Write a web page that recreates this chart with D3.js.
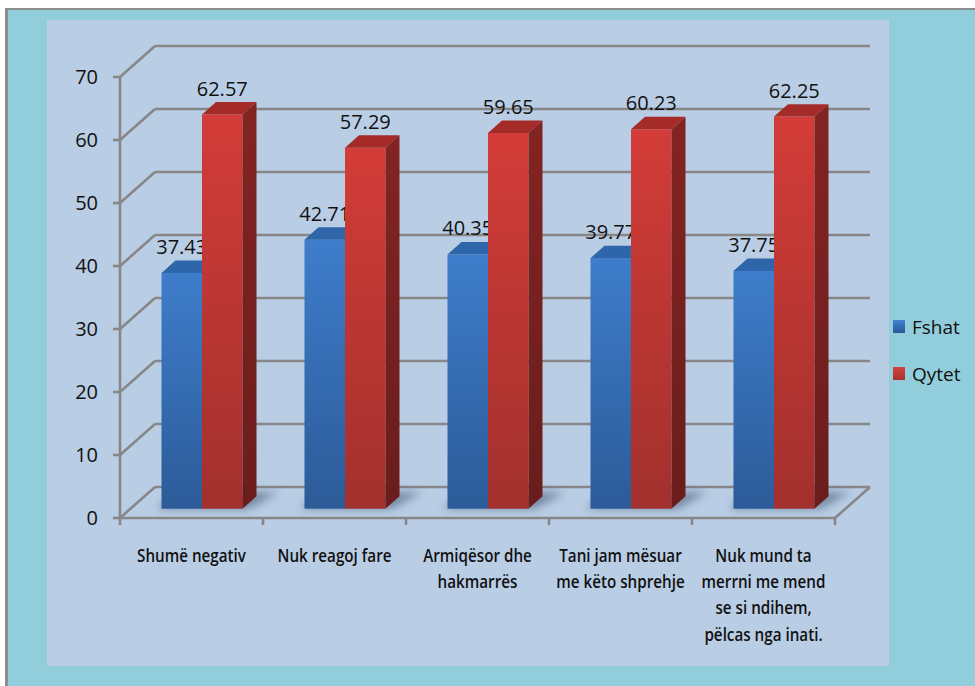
<!DOCTYPE html>
<html><head><meta charset="utf-8">
<script src="https://cdn.jsdelivr.net/npm/d3@7"></script>
<style>body{margin:0;background:#fff}svg{display:block}</style>
</head><body>
<script>
const categories = ["Shumë negativ", "Nuk reagoj fare", "Armiqësor dhe\nhakmarrës", "Tani jam mësuar\nme këto shprehje", "Nuk mund ta\nmerrni me mend\nse si ndihem,\npëlcas nga inati."];
const seriesNames = ["Fshat", "Qytet"];
const fshat = [37.43, 42.71, 40.35, 39.77, 37.75];
const qytet = [62.57, 57.29, 59.65, 60.23, 62.25];
const yTicks = [0, 10, 20, 30, 40, 50, 60, 70];

const W = 975, H = 686;
const svg = d3.select("body").append("svg").attr("width", W).attr("height", H);
const defs = svg.append("defs");

function grad(id, stops, x2 = 0, y2 = 1) {
  const g = defs.append("linearGradient").attr("id", id).attr("x1", 0).attr("y1", 0).attr("x2", x2).attr("y2", y2);
  stops.forEach(([o, c]) => g.append("stop").attr("offset", o).attr("stop-color", c));
}
grad("blueFront", [[0, "#3E7DCB"], [1, "#2C5B98"]]);
grad("redFront", [[0, "#D33C38"], [1, "#A2302D"]]);
grad("redSide", [[0, "#832422"], [1, "#6A1D1C"]]);
grad("blueSide", [[0, "#24508A"], [1, "#1D416F"]]);
grad("blueLeg", [[0, "#4282D0"], [1, "#2A5894"]]);
grad("redLeg", [[0, "#D6433E"], [1, "#A8302D"]]);
defs.append("filter").attr("id", "blur").attr("x", "-50%").attr("y", "-50%").attr("width", "200%").attr("height", "200%")
  .append("feGaussianBlur").attr("stdDeviation", 4);

// backgrounds
svg.append("rect").attr("x", 5).attr("y", 8).attr("width", W - 5).attr("height", H - 8).attr("fill", "#8C8C8C");
svg.append("rect").attr("x", 8).attr("y", 10).attr("width", W - 8).attr("height", H - 10).attr("fill", "#92CDDC");
svg.append("rect").attr("x", 47).attr("y", 20).attr("width", 842).attr("height", 646).attr("fill", "#B9CDE5");

const x = d3.scaleBand().domain(d3.range(categories.length)).range([120, 835]);
const xs = d3.scaleBand().domain(seriesNames).range([0, x.bandwidth()]).paddingOuter(0.765);
const y = d3.scaleLinear().domain([0, 70]).range([518, 77]);
const color = d3.scaleOrdinal().domain(seriesNames).range(["blue", "red"]);

const DX = 35, DY = -31;          // wall depth
const FX = 10.5, FY = -9.3;       // bar front plane offset
const BX = 14, BY = -12.4;        // bar depth
const gridColor = "#878787";

const grid = svg.append("g").attr("stroke", gridColor).attr("stroke-width", 2.6).attr("fill", "none");
yTicks.forEach(t => {
  const yy = y(t);
  grid.append("line").attr("x1", 120).attr("y1", yy).attr("x2", 120 + DX).attr("y2", yy + DY);
  grid.append("line").attr("x1", 120 + DX).attr("y1", yy + DY).attr("x2", 835 + DX).attr("y2", yy + DY);
  grid.append("line").attr("x1", 113).attr("y1", yy).attr("x2", 120).attr("y2", yy);
});
grid.append("line").attr("x1", 120).attr("y1", y(0)).attr("x2", 120).attr("y2", y(70));
grid.append("line").attr("x1", 120).attr("y1", y(0)).attr("x2", 835).attr("y2", y(0));
grid.append("line").attr("x1", 835).attr("y1", y(0)).attr("x2", 835 + DX).attr("y2", y(0) + DY);
d3.range(categories.length + 1).forEach(i => {
  const xx = 120 + i * x.bandwidth();
  grid.append("line").attr("x1", xx).attr("y1", y(0)).attr("x2", xx).attr("y2", y(0) + 7);
});

// y tick labels
svg.append("g").selectAll("text").data(yTicks).join("text")
  .attr("x", 98).attr("y", d => y(d)).attr("dy", "0.36em").attr("text-anchor", "end")
  .attr("font-family", "'Open Sans', sans-serif").attr("font-size", 20).attr("fill", "#111")
  .text(d => d);

const values = { Fshat: fshat, Qytet: qytet };

// shadows
const shadows = svg.append("g").attr("filter", "url(#blur)").attr("opacity", 0.55);
categories.forEach((c, i) => {
  const x0 = x(i) + xs("Fshat") + FX, x1 = x(i) + xs("Qytet") + xs.bandwidth() + FX;
  const yb = y(0) + FY;
  shadows.append("polygon").attr("fill", "#3a4f6a")
    .attr("points", [[x0 - 4, yb], [x1 + 6, yb], [x1 + BX + 22, yb + BY - 4], [x0 + BX, yb + BY - 4]].map(p => p.join(",")).join(" "));
});

// bars
const bars = svg.append("g");
categories.forEach((c, i) => {
  seriesNames.forEach(s => {
    const v = values[s][i];
    const bx = x(i) + xs(s) + FX, w = xs.bandwidth();
    const yt = y(v) + FY, yb = y(0) + FY;
    const col = color(s);
    bars.append("rect").attr("x", bx).attr("y", yt).attr("width", w).attr("height", yb - yt)
      .attr("fill", `url(#${col}Front)`);
    bars.append("polygon").attr("fill", col === "blue" ? "#2F65A9" : "#A42B28")
      .attr("points", [[bx, yt], [bx + w, yt], [bx + w + BX, yt + BY], [bx + BX, yt + BY]].map(p => p.join(",")).join(" "));
    bars.append("polygon").attr("fill", `url(#${col}Side)`)
      .attr("points", [[bx + w, yt], [bx + w + BX, yt + BY], [bx + w + BX, yb + BY], [bx + w, yb]].map(p => p.join(",")).join(" "));
    bars.append("text").attr("x", bx + w / 2).attr("y", yt - 19).attr("text-anchor", "middle")
      .attr("font-family", "'Open Sans', sans-serif").attr("font-size", 20).attr("fill", "#111")
      .text(v.toFixed(2));
  });
});

// category labels (condensed horizontally to mimic a narrow bold face)
const catG = svg.append("g").attr("font-family", "'Open Sans', sans-serif")
  .attr("font-weight", 600).attr("font-size", 18).attr("fill", "#111").attr("text-anchor", "middle");
const texts = [];
categories.forEach((c, i) => {
  const cx = x(i) + x.bandwidth() / 2;
  const g = catG.append("g").attr("transform", `translate(${cx},0)`);
  const t = g.append("text").attr("x", 0).attr("y", 562);
  c.split("\n").forEach((line, k) => {
    t.append("tspan").attr("x", 0).attr("dy", k === 0 ? 0 : 26.2).text(line);
  });
  texts.push(g);
});
const refW = texts[0].select("text").node().getComputedTextLength();
const f = 109 / refW;
texts.forEach((g, i) => {
  const cx = x(i) + x.bandwidth() / 2;
  g.attr("transform", `translate(${cx},0) scale(${f},1)`);
});

// legend
const leg = svg.append("g");
seriesNames.forEach((s, k) => {
  const ly = 320 + k * 47;
  leg.append("rect").attr("x", 893).attr("y", ly).attr("width", 12).attr("height", 13).attr("fill", `url(#${color(s)}Leg)`);
  leg.append("text").attr("x", 912).attr("y", ly + 14).attr("font-family", "'Open Sans', sans-serif")
    .attr("font-size", 19).attr("fill", "#111").text(s);
});
</script>
</body></html>
